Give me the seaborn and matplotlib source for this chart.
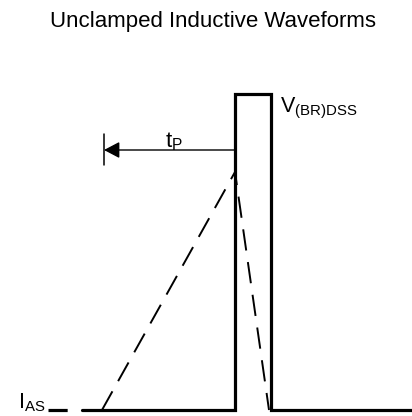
import pandas as pd
import seaborn as sns
import matplotlib.pyplot as plt

# diagram coordinates in pixels (y grows downward)
voltage_x = [82, 235, 235, 271, 271, 412]
voltage_y = [410, 410, 94, 94, 410, 410]
current_x = [102, 235, 269]
current_y = [410, 172, 410]
ias_x = [48, 82]
ias_y = [410, 410]
tp_x = [235, 104]
tp_y = [150, 150]
tp_tick_x = [104, 104]
tp_tick_y = [134, 165]

title = "Unclamped Inductive Waveforms"

sns.set_style("white")
plt.rcParams['font.family'] = ['Liberation Sans', 'DejaVu Sans']
plt.rcParams['mathtext.fontset'] = 'custom'
plt.rcParams['mathtext.rm'] = 'Liberation Sans'
plt.rcParams['text.color'] = 'black'

fig = plt.figure(figsize=(4.12, 4.16), dpi=100)
ax = fig.add_axes([0, 0, 1, 1])

volt_df = pd.DataFrame({'x': voltage_x, 'y': voltage_y})
curr_df = pd.DataFrame({'x': current_x, 'y': current_y})
ias_df = pd.DataFrame({'x': ias_x, 'y': ias_y})

common = dict(x='x', y='y', sort=False, estimator=None, errorbar=None,
              color='black', ax=ax)
sns.lineplot(data=volt_df, lw=2.3, solid_joinstyle='miter', **common)
sns.lineplot(data=curr_df, lw=1.4, linestyle=(0, (11, 6)), **common)
sns.lineplot(data=ias_df, lw=2.3, linestyle=(0, (6, 6)), **common)

# tP arrow
ax.annotate('', xy=(tp_x[1], tp_y[1]), xytext=(tp_x[0], tp_y[0]),
            arrowprops=dict(arrowstyle='-|>,head_length=0.95,head_width=0.5',
                            mutation_scale=10, lw=1.0, color='black',
                            shrinkA=0, shrinkB=0))
ax.plot(tp_tick_x, tp_tick_y, color='black', lw=1.1)

ax.text(213, 27, title, ha='center', va='baseline', fontsize=16)
ax.text(165, 147, r'$\mathregular{t_P}$', ha='left', va='baseline', fontsize=16)
ax.text(280, 112, r'$\mathregular{V_{(BR)DSS}}$', ha='left', va='baseline',
        fontsize=15.5)
ax.text(18, 408, r'$\mathregular{I_{AS}}$', ha='left', va='baseline',
        fontsize=15.5)

ax.set_xlim(0, 412)
ax.set_ylim(416, 0)
ax.set_axis_off()

plt.savefig('out.png', dpi=100)
